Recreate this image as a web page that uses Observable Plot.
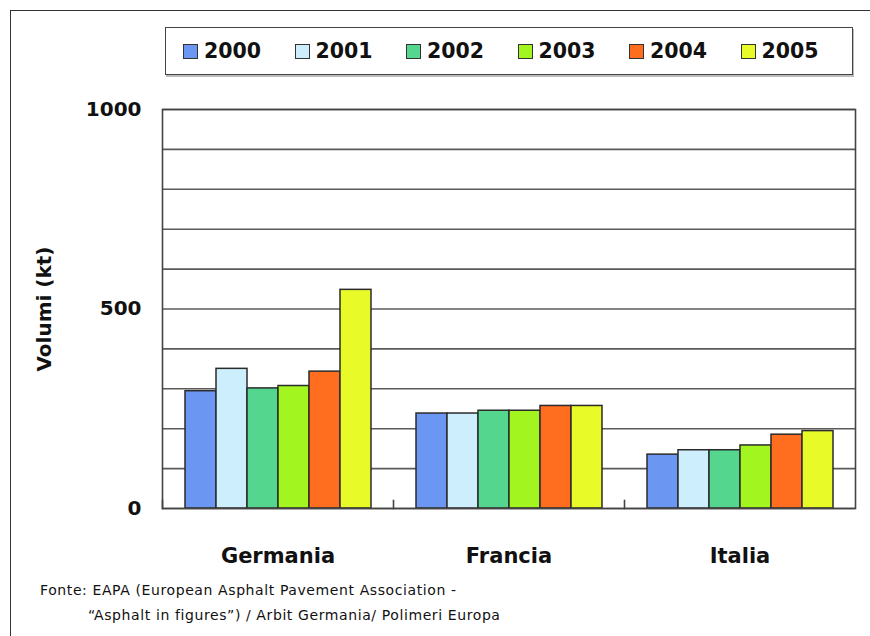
<!DOCTYPE html>
<html>
<head>
<meta charset="utf-8">
<script src="https://cdn.jsdelivr.net/npm/d3@7"></script>
<script src="https://cdn.jsdelivr.net/npm/@observablehq/plot@0.6"></script>
<style>
  html, body { margin: 0; padding: 0; background: #fff; }
  #wrap { position: relative; width: 870px; height: 636px; overflow: hidden; background: #fff; font-family: "DejaVu Sans", sans-serif; }
  #outer { position: absolute; left: 10px; top: 10px; width: 870px; height: 640px; border-top: 1.5px solid #333; border-left: 1.5px solid #333; box-sizing: border-box; }
  #chart { position: absolute; left: 0; top: 0; }
  #legend { position: absolute; left: 165px; top: 27px; width: 688px; height: 48px; border: 1.5px solid #444; box-shadow: 1px 2px 0 #bbb; box-sizing: border-box; display: flex; align-items: center; padding-left: 17px; background: #fff; }
  .item { display: flex; align-items: center; width: 115.4px; font-weight: bold; font-size: 20.5px; color: #111; }
  .sw { width: 13px; height: 13px; border: 1px solid #333; margin-right: 6px; }
  #caption { position: absolute; left: 40px; top: 578px; font-size: 14px; letter-spacing: 0.6px; color: #111; line-height: 25px; }
  #caption .l2 { padding-left: 48px; }
</style>
</head>
<body>
<div id="wrap">
  <div id="outer"></div>
  <div id="chart"></div>
  <div id="legend"></div>
  <div id="caption"></div>
</div>
<script>
const countries = ["Germania", "Francia", "Italia"];
const years = ["2000", "2001", "2002", "2003", "2004", "2005"];
const germania = [294, 350, 301, 307, 343, 548];
const francia = [238, 238, 245, 245, 257, 257];
const italia = [135, 146, 146, 158, 185, 194];
const colors = ["#6b96f2", "#cdeefc", "#55d68e", "#a3f51f", "#ff6d1f", "#e8fa28"];
const yTicks = [0, 500, 1000];
const gridValues = [0, 100, 200, 300, 400, 500, 600, 700, 800, 900, 1000];
const yLabel = "Volumi (kt)";
const captionLines = [
  "Fonte: EAPA (European Asphalt Pavement Association  -",
  "\u201CAsphalt in figures\u201D) / Arbit Germania/ Polimeri Europa"
];

const series = [germania, francia, italia];
const rows = [];
countries.forEach((c, i) => years.forEach((y, j) => rows.push({country: c, year: y, value: series[i][j]})));

const plot = Plot.plot({
  width: 870,
  height: 636,
  marginTop: 109,
  marginRight: 15,
  marginBottom: 128,
  marginLeft: 161,
  style: {fontFamily: "DejaVu Sans, sans-serif", color: "#111", background: "transparent"},
  fx: {domain: countries, padding: 0},
  x: {domain: years, paddingInner: 0, paddingOuter: 0.72, axis: null},
  y: {domain: [0, 1000]},
  color: {domain: years, range: colors},
  marks: [
    Plot.ruleY(gridValues, {stroke: "#5a5a5a", strokeWidth: 1.6}),
    Plot.frame({anchor: "left", insetTop: 391, stroke: "#444", strokeWidth: 1.6}),
    Plot.barY(rows, {fx: "country", x: "year", y: "value", fill: "year", stroke: "#2b2b2b", strokeWidth: 1.5, insetLeft: 0, insetRight: 0}),
    Plot.frame({facet: "super", stroke: "#444", strokeWidth: 1.6}),
    Plot.axisY({ticks: yTicks, tickFormat: d => String(d), tickSize: 0, tickPadding: 21, fontSize: 20, fontWeight: "bold", label: yLabel, labelAnchor: "center", labelOffset: 126, labelArrow: false}),
    Plot.axisFx({anchor: "bottom", tickSize: 0, tickPadding: 40, fontSize: 21, fontWeight: "bold", label: null})
  ]
});
document.getElementById("chart").appendChild(plot);

const legend = document.getElementById("legend");
years.forEach((y, i) => {
  const it = document.createElement("div");
  it.className = "item";
  const sw = document.createElement("span");
  sw.className = "sw";
  sw.style.background = colors[i];
  it.appendChild(sw);
  it.appendChild(document.createTextNode(y));
  legend.appendChild(it);
});

const cap = document.getElementById("caption");
captionLines.forEach((t, i) => {
  const d = document.createElement("div");
  if (i === 1) d.className = "l2";
  d.textContent = t;
  cap.appendChild(d);
});
</script>
</body>
</html>
